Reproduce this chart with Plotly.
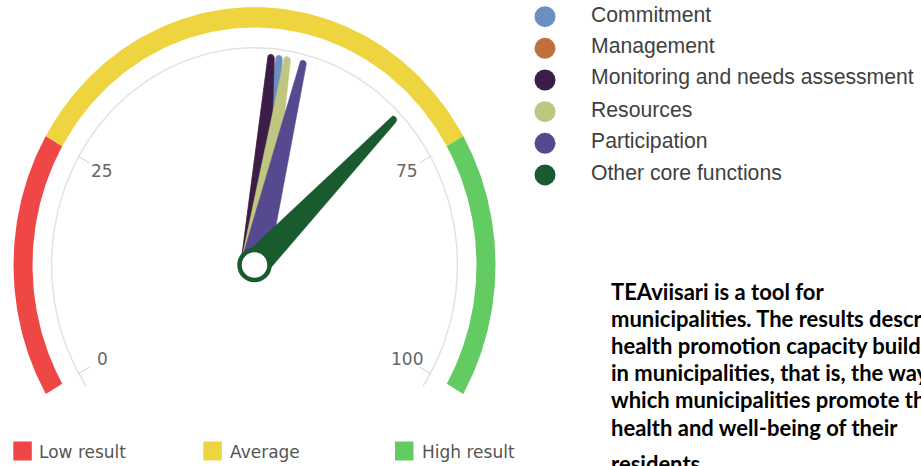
import math
import plotly.graph_objects as go

# ---------------- data ----------------
categories = ["Commitment", "Management", "Monitoring and needs assessment",
              "Resources", "Participation", "Other core functions"]
values = [53, 52, 52, 54, 56, 69]
series_colors = ["#6b8fc3", "#c0703a", "#3c1d49", "#bfc67f", "#564990", "#1a5a2f"]

band_names = ["Low result", "Average", "High result"]
band_from = [0, 25, 75]
band_to = [25, 75, 100]
band_colors = ["#ef4646", "#eed43f", "#62cb62"]

tick_values = [0, 25, 75, 100]
tick_labels = ["0", "25", "75", "100"]

text_lines = [
    "TEAviisari is a tool for",
    "municipalities. The results describe",
    "health promotion capacity building",
    "in municipalities, that is, the way in",
    "which municipalities promote the",
    "health and well-being of their",
    "residents.",
]

# ---------------- geometry / layout constants ----------------
W, H = 921, 466
CX, CY = 254.5, 265.0      # pixel position of gauge centre
S = 1.07                   # vertical stretch of the picture
START, END = -120.0, 120.0 # gauge angles (deg from top, clockwise)
R_BAND_OUT, R_BAND_IN = 241.0, 222.0
R_LINE = 203.0
R_TICK_IN = 191.0
R_LABEL = 176.0
NEEDLE_LEN, BASE_W, TOP_W = 194.0, 27.5, 7.0


def ang(v):
    return math.radians(START + (END - START) * v / 100.0)


def pol(r, a):
    return r * math.sin(a), r * math.cos(a)


def arc(r, a0, a1, n=120):
    xs, ys = [], []
    for i in range(n + 1):
        a = a0 + (a1 - a0) * i / n
        x, y = pol(r, a)
        xs.append(x)
        ys.append(y)
    return xs, ys


fig = go.Figure()

# pane line (light gray arc)
gx, gy = arc(R_LINE, math.radians(-124), math.radians(124), 200)
fig.add_trace(go.Scatter(x=gx, y=gy, mode="lines",
                         line=dict(color="#e2e2e2", width=1.5),
                         hoverinfo="skip"))

# tick marks
tx, ty = [], []
for v in tick_values:
    a = ang(v)
    x0, y0 = pol(R_TICK_IN, a)
    x1, y1 = pol(R_LINE, a)
    tx += [x0, x1, None]
    ty += [y0, y1, None]
fig.add_trace(go.Scatter(x=tx, y=ty, mode="lines",
                         line=dict(color="#cfcfcf", width=1),
                         hoverinfo="skip"))

# colour bands
for name, v0, v1, c in zip(band_names, band_from, band_to, band_colors):
    ox, oy = arc(R_BAND_OUT, ang(v0), ang(v1))
    ix, iy = arc(R_BAND_IN, ang(v1), ang(v0))
    fig.add_trace(go.Scatter(x=ox + ix + [ox[0]], y=oy + iy + [oy[0]],
                             mode="lines", fill="toself", fillcolor=c,
                             line=dict(width=0, color=c), hoverinfo="skip",
                             name=name))

# needles
for name, v, c in zip(categories, values, series_colors):
    a = ang(v)
    ux, uy = math.sin(a), math.cos(a)
    px_, py_ = math.cos(a), -math.sin(a)
    xs = [-px_ * BASE_W / 2]
    ys = [-py_ * BASE_W / 2]
    tcx, tcy = ux * NEEDLE_LEN, uy * NEEDLE_LEN
    for i in range(21):
        t = math.pi * i / 20
        xs.append(tcx + TOP_W / 2 * (-px_ * math.cos(t) + ux * math.sin(t)))
        ys.append(tcy + TOP_W / 2 * (-py_ * math.cos(t) + uy * math.sin(t)))
    xs.append(px_ * BASE_W / 2)
    ys.append(py_ * BASE_W / 2)
    xs.append(xs[0])
    ys.append(ys[0])
    fig.add_trace(go.Scatter(x=xs, y=ys, mode="lines", fill="toself",
                             fillcolor=c, line=dict(width=0.6, color=c),
                             hoverinfo="skip", name=name))

# pivot
fig.add_trace(go.Scatter(x=[0], y=[0], mode="markers",
                         marker=dict(size=30, color="white",
                                     line=dict(color=series_colors[-1], width=4.5)),
                         hoverinfo="skip"))

# tick labels
annotations = []
for v, lab in zip(tick_values, tick_labels):
    x, y = pol(R_LABEL, ang(v))
    annotations.append(dict(x=x, y=y, xref="x", yref="y", text=lab,
                            showarrow=False, xanchor="center", yanchor="middle",
                            font=dict(family="DejaVu Sans", size=17, color="#666666")))

# right-hand legend (series)
LEG_X, LEG_TEXT_X = 545.0, 589.0
LEG_Y0, LEG_DY = 16.7, 31.65
lx = [LEG_X - CX] * len(categories)
ly = [(CY - (LEG_Y0 + i * LEG_DY)) / S for i in range(len(categories))]
fig.add_trace(go.Scatter(x=lx, y=ly, mode="markers", cliponaxis=False,
                         marker=dict(size=21, color=series_colors),
                         hoverinfo="skip"))
for i, name in enumerate(categories):
    annotations.append(dict(x=LEG_TEXT_X / W, y=1 - (LEG_Y0 + i * LEG_DY - 2.5) / H,
                            xref="paper", yref="paper", text=name, showarrow=False,
                            xanchor="left", yanchor="middle",
                            font=dict(family="Liberation Sans, Arial", size=21.2,
                                      color="#3f3f3f")))

# bottom legend (bands)
shapes = []
sq_x = [13.3, 203.3, 395.0]
txt_x = [37.0, 228.0, 419.5]
for name, c, x0, t0 in zip(band_names, band_colors, sq_x, txt_x):
    shapes.append(dict(type="rect", xref="paper", yref="paper",
                       x0=x0 / W, x1=(x0 + 18.5) / W,
                       y0=1 - 460.5 / H, y1=1 - 441.5 / H,
                       fillcolor=c, line=dict(width=0)))
    annotations.append(dict(x=t0 / W, y=1 - 451.5 / H, xref="paper", yref="paper",
                            text=name, showarrow=False, xanchor="left",
                            yanchor="middle",
                            font=dict(family="DejaVu Sans", size=17, color="#555555")))

# descriptive text (one annotation per line)
baselines = [299.0, 326.0, 353.0, 380.0, 407.0, 434.5, 471.0]
TFS = 22
for line, b in zip(text_lines, baselines):
    annotations.append(dict(x=609.0 / W, y=1 - (b - 0.33 * TFS) / H,
                            xref="paper", yref="paper", text="<b>" + line + "</b>",
                            showarrow=False, xanchor="left", yanchor="middle",
                            font=dict(family="Lato", size=TFS, color="#000000")))

fig.update_layout(
    width=W, height=H,
    margin=dict(l=0, r=0, t=0, b=0),
    paper_bgcolor="white", plot_bgcolor="white",
    showlegend=False,
    xaxis=dict(range=[-CX, W - CX], visible=False, fixedrange=True),
    yaxis=dict(range=[(CY - H) / S, CY / S], visible=False, fixedrange=True),
    annotations=annotations,
    shapes=shapes,
)

fig.write_html("out.html", config={"displayModeBar": False},
               post_script="document.body.style.margin='0';"
                           "document.body.style.overflow='hidden';")
